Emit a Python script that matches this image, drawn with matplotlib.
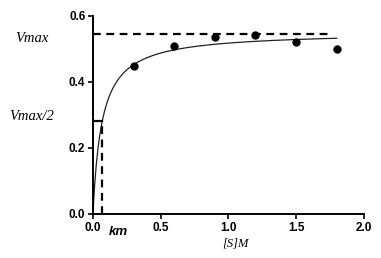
import matplotlib.pyplot as plt
import numpy as np

# measured substrate concentrations and velocities
substrate = [0.3, 0.6, 0.9, 1.2, 1.5, 1.8]
velocity = [0.449, 0.510, 0.537, 0.543, 0.521, 0.499]

# fitted Michaelis-Menten parameters
vmax_fit = 0.552
km_fit = 0.066
vmax_line = 0.545
vhalf_line = 0.283

xticks = [0.0, 0.5, 1.0, 1.5, 2.0]
yticks = [0.0, 0.2, 0.4, 0.6]

fig = plt.figure(figsize=(3.81, 2.58), dpi=100)
ax = fig.add_axes([0.244, 0.171, 0.711, 0.767])

s = np.linspace(0, 1.8, 300)
ax.plot(s, vmax_fit * s / (km_fit + s), color='#222222', lw=0.9)
ax.plot(substrate, velocity, 'o', color='black', ms=5)

ax.plot([0, 1.76], [vmax_line, vmax_line], color='black', lw=1.6,
        linestyle=(0, (3.5, 2.5)))
ax.plot([km_fit, km_fit], [0, vhalf_line], color='black', lw=1.6,
        linestyle=(0, (3.5, 2.5)))
ax.plot([0, km_fit], [vhalf_line, vhalf_line], color='black', lw=1.6)

ax.set_xlim(0, 2.0)
ax.set_ylim(0, 0.6)
ax.set_xticks(xticks)
ax.set_yticks(yticks)
ax.set_xticklabels(['%.1f' % t for t in xticks])
ax.set_yticklabels(['%.1f' % t for t in yticks])
for sp in ['top', 'right']:
    ax.spines[sp].set_visible(False)
for sp in ['left', 'bottom']:
    ax.spines[sp].set_linewidth(1.4)
ax.tick_params(width=1.2, length=3.5, labelsize=8.5, pad=2)
for lab in ax.get_xticklabels() + ax.get_yticklabels():
    lab.set_fontfamily('Liberation Sans')
    lab.set_fontweight('bold')

fig.text(32 / 381, 1 - 38 / 258, 'Vmax', fontsize=10.5, fontstyle='italic',
         family='Liberation Serif', ha='center', va='center')
fig.text(32 / 381, 1 - 117 / 258, 'Vmax/2', fontsize=10.5, fontstyle='italic',
         family='Liberation Serif', ha='center', va='center')
fig.text(118 / 381, 1 - 232 / 258, 'km', fontsize=9.5, fontstyle='italic',
         fontweight='bold', family='Liberation Sans', ha='center', va='center')
fig.text(235 / 381, 1 - 244 / 258, '[S]M', fontsize=9, fontstyle='italic',
         family='Liberation Serif', ha='center', va='center')

fig.savefig('out.png', dpi=100)
